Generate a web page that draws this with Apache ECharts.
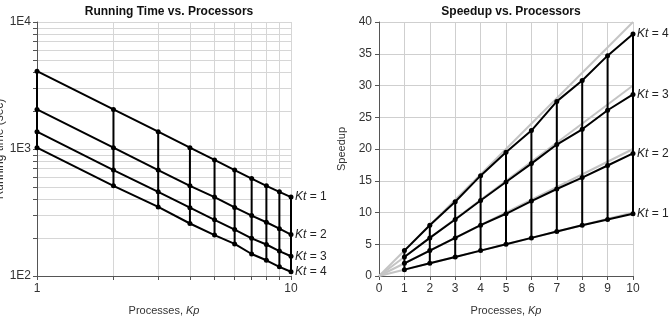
<!DOCTYPE html>
<html>
<head>
<meta charset="utf-8">
<script src="https://cdn.jsdelivr.net/npm/echarts@6/dist/echarts.min.js"></script>
<style>
  html, body { margin: 0; padding: 0; background: #fff; }
  #chart { width: 672px; height: 318px; }
</style>
</head>
<body>
<div id="chart"></div>
<script>
"use strict";
// processes on the x axis
var kp = [1, 2, 3, 4, 5, 6, 7, 8, 9, 10];
var ktNames = ["1", "2", "3", "4"];

// running time (sec)
var timeKt1 = [4100, 2050, 1370, 1025, 820, 683, 585, 513, 460, 418];
var timeKt2 = [2050, 1025, 683, 513, 418, 347, 299, 265, 236, 212];
var timeKt3 = [1370, 683, 460, 345, 277, 232, 198, 177, 157, 143];
var timeKt4 = [1025, 513, 350, 259, 210, 179, 149, 133, 118, 108];

// speedup
var speedKt1 = [1, 2, 3, 4, 5, 6, 7, 8, 8.9, 9.8];
var speedKt2 = [2, 4, 6, 8, 9.8, 11.8, 13.7, 15.5, 17.4, 19.3];
var speedKt3 = [3, 6, 8.9, 11.9, 14.8, 17.7, 20.7, 23.1, 26.1, 28.6];
var speedKt4 = [4, 8, 11.7, 15.8, 19.5, 22.9, 27.5, 30.8, 34.7, 38.1];

// ideal speedup lines (gray): from 0 to 10 with slope Kt
var idealX = [0, 10];
var idealEnd = [10, 20, 30, 40];

// log ticks (grid lines follow them)
var logTicksX = [1, 2, 3, 4, 5, 6, 7, 8, 9, 10];
var logTicksY = [100, 200, 300, 400, 500, 600, 700, 800, 900, 1000,
                 2000, 3000, 4000, 5000, 6000, 7000, 8000, 9000, 10000];

var times = [timeKt1, timeKt2, timeKt3, timeKt4];
var speeds = [speedKt1, speedKt2, speedKt3, speedKt4];

var FONT = "Liberation Sans, Arial, sans-serif";
var labelStyle = { color: "#333", fontSize: 12, fontFamily: FONT };
var nameRich = {
    n: { fontSize: 11, fontFamily: FONT, color: "#333" },
    i: { fontSize: 11, fontFamily: FONT, color: "#333", fontStyle: "italic" }
};
var axisLine = { show: true, onZero: false, lineStyle: { color: "#555", width: 1 } };

function pairs(xs, ys) {
    return xs.map(function (x, i) { return [x, ys[i]]; });
}

function ktLabel(name) {
    return {
        show: true,
        formatter: "{i|Kt} = " + name,
        distance: 4,
        fontSize: 12,
        fontFamily: FONT,
        color: "#222",
        rich: { i: { fontStyle: "italic", fontSize: 12, fontFamily: FONT, color: "#222" } }
    };
}

var series = [];

// gray ideal lines (right)
idealEnd.forEach(function (e) {
    series.push({
        type: "line", xAxisIndex: 1, yAxisIndex: 1, z: 2, silent: true,
        data: pairs(idealX, [0, e]), showSymbol: false,
        lineStyle: { color: "#c4c4c4", width: 2 }
    });
});

// vertical connectors
kp.forEach(function (x, i) {
    series.push({
        type: "line", xAxisIndex: 0, yAxisIndex: 0, z: 3, showSymbol: false,
        data: [[x, timeKt4[i]], [x, timeKt1[i]]],
        lineStyle: { color: "#000", width: 2 }
    });
    series.push({
        type: "line", xAxisIndex: 1, yAxisIndex: 1, z: 3, showSymbol: false,
        data: [[x, speedKt1[i]], [x, speedKt4[i]]],
        lineStyle: { color: "#000", width: 2 }
    });
});

// Kt curves
ktNames.forEach(function (name, k) {
    series.push({
        type: "line", xAxisIndex: 0, yAxisIndex: 0, z: 4,
        data: pairs(kp, times[k]),
        symbol: "circle", symbolSize: 5, clip: false,
        itemStyle: { color: "#000" },
        lineStyle: { color: "#000", width: 2 },
        endLabel: ktLabel(name)
    });
    series.push({
        type: "line", xAxisIndex: 1, yAxisIndex: 1, z: 4,
        data: pairs(kp, speeds[k]),
        symbol: "circle", symbolSize: 5, clip: false,
        itemStyle: { color: "#000" },
        lineStyle: { color: "#000", width: 2 },
        endLabel: ktLabel(name)
    });
});

var option = {
    animation: false,
    backgroundColor: "#fff",
    title: [
        { text: "Running Time vs. Processors", left: 164, top: 1, textAlign: "center",
          textStyle: { fontSize: 12, fontWeight: "bold", fontFamily: FONT, color: "#111" } },
        { text: "Speedup vs. Processors", left: 506, top: 1, textAlign: "center",
          textStyle: { fontSize: 12, fontWeight: "bold", fontFamily: FONT, color: "#111" } }
    ],
    grid: [
        { left: 37, top: 22, width: 254, height: 254, outerBoundsMode: "none", containLabel: false },
        { left: 379, top: 22, width: 254, height: 254, outerBoundsMode: "none", containLabel: false }
    ],
    xAxis: [
        {
            gridIndex: 0, type: "log", logBase: 10, min: 1, max: 10,
            name: "{n|Processes, }{i|Kp}", nameLocation: "middle", nameGap: 29,
            nameTextStyle: { rich: nameRich },
            axisLine: axisLine,
            axisTick: { show: true, length: 4, customValues: logTicksX, lineStyle: { color: "#555" } },
            axisLabel: Object.assign({ margin: 7 }, labelStyle),
            splitLine: { show: true, lineStyle: { color: "#d6d6d6" } }
        },
        {
            gridIndex: 1, type: "value", min: 0, max: 10, interval: 1,
            name: "{n|Processes, }{i|Kp}", nameLocation: "middle", nameGap: 29,
            nameTextStyle: { rich: nameRich },
            axisLine: axisLine,
            axisTick: { show: true, length: 4, lineStyle: { color: "#555" } },
            axisLabel: Object.assign({ margin: 7 }, labelStyle),
            splitLine: { show: true, lineStyle: { color: "#cfcfcf" } }
        }
    ],
    yAxis: [
        {
            gridIndex: 0, type: "log", logBase: 10, min: 100, max: 10000,
            name: "Running time (sec)", nameLocation: "middle", nameGap: 29,
            nameTextStyle: { fontSize: 12, fontFamily: FONT, color: "#333" },
            axisLine: axisLine,
            axisTick: { show: true, length: 4, customValues: logTicksY, lineStyle: { color: "#555" } },
            axisLabel: Object.assign({
                margin: 6,
                formatter: function (v) { return "1E" + Math.round(Math.log10(v)); }
            }, labelStyle),
            splitLine: { show: true, lineStyle: { color: "#d6d6d6" } }
        },
        {
            gridIndex: 1, type: "value", min: 0, max: 40, interval: 5,
            name: "Speedup", nameLocation: "middle", nameGap: 32,
            nameTextStyle: { fontSize: 11, fontFamily: FONT, color: "#333" },
            axisLine: axisLine,
            axisTick: { show: true, length: 4, lineStyle: { color: "#555" } },
            axisLabel: Object.assign({ margin: 7 }, labelStyle),
            splitLine: { show: true, lineStyle: { color: "#cfcfcf" } }
        }
    ],
    series: series
};

var chart = echarts.init(document.getElementById("chart"), null, { renderer: "canvas" });
chart.setOption(option);
</script>
</body>
</html>
